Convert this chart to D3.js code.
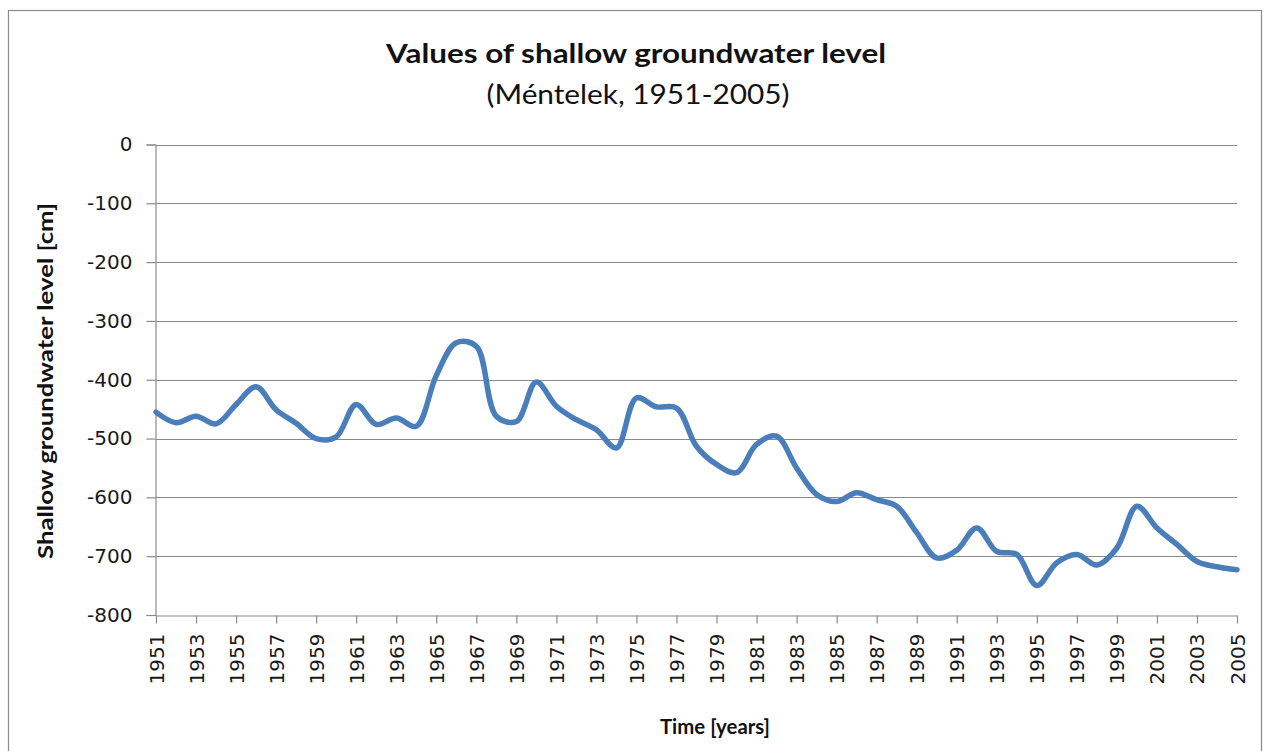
<!DOCTYPE html>
<html>
<head>
<meta charset="utf-8">
<script src="https://cdn.jsdelivr.net/npm/d3@7"></script>
<style>
  html, body { margin: 0; padding: 0; background: #fff; }
  svg { display: block; }
</style>
</head>
<body>
<svg id="chart" width="1266" height="751"></svg>
<script>
const titleText = "Values of shallow groundwater level";
const subtitleText = "(Méntelek, 1951-2005)";
const yAxisTitle = "Shallow groundwater level [cm]";
const xAxisTitle = "Time [years]";

const years = [1951,1952,1953,1954,1955,1956,1957,1958,1959,1960,
  1961,1962,1963,1964,1965,1966,1967,1968,1969,1970,
  1971,1972,1973,1974,1975,1976,1977,1978,1979,1980,
  1981,1982,1983,1984,1985,1986,1987,1988,1989,1990,
  1991,1992,1993,1994,1995,1996,1997,1998,1999,2000,
  2001,2002,2003,2004,2005];

const levels = [-455,-473,-462,-475,-442,-412,-451,-474,-500,-497,
  -442,-476,-465,-479,-393,-337,-343,-462,-471,-404,
  -445,-468,-485,-516,-431,-446,-448,-513,-544,-558,
  -510,-496,-550,-595,-607,-592,-604,-615,-660,-703,
  -690,-652,-692,-697,-750,-711,-697,-715,-686,-615,
  -652,-680,-709,-718,-723];

const yTicks = [0,-100,-200,-300,-400,-500,-600,-700,-800];
const xTickLabels = [1951,1953,1955,1957,1959,1961,1963,1965,1967,1969,1971,1973,1975,1977,1979,1981,1983,1985,1987,1989,1991,1993,1995,1997,1999,2001,2003,2005];

const svg = d3.select("#chart");
const gridColor = "#8a8a8a";

// outer frame
svg.append("rect")
  .attr("x", 8.5).attr("y", 10.5)
  .attr("width", 1253).attr("height", 780)
  .attr("fill", "#fff").attr("stroke", "#8c8c8c").attr("stroke-width", 1.2);

const x = d3.scalePoint().domain(years).range([156, 1237]);
const y = d3.scaleLinear().domain([-800, 0]).range([615, 144.5]);

// gridlines
svg.append("g")
  .selectAll("line")
  .data(yTicks.filter(d => d !== -800))
  .join("line")
  .attr("x1", 156).attr("x2", 1237)
  .attr("y1", d => Math.round(y(d)) + 0.5).attr("y2", d => Math.round(y(d)) + 0.5)
  .attr("stroke", gridColor).attr("stroke-width", 1.2);

// y axis
const yAxis = svg.append("g")
  .attr("transform", "translate(155.5,0)")
  .call(d3.axisLeft(y).tickValues(yTicks).tickFormat(d => String(d)).tickSize(9).tickPadding(14));
yAxis.selectAll("path, line").attr("stroke", gridColor).attr("stroke-width", 1.2);
yAxis.selectAll("text")
  .attr("font-family", "DejaVu Sans, Verdana, sans-serif")
  .attr("font-size", 20).attr("fill", "#1a1a1a");

// x axis
const xAxis = svg.append("g")
  .attr("transform", "translate(0,615.5)")
  .call(d3.axisBottom(x).tickValues(xTickLabels).tickSize(8).tickSizeOuter(0).tickFormat(d => String(d)));
xAxis.select("path").attr("stroke", gridColor).attr("stroke-width", 1.2);
xAxis.selectAll("line").attr("stroke", gridColor).attr("stroke-width", 1.2);
xAxis.selectAll("text")
  .attr("font-family", "DejaVu Sans, Verdana, sans-serif")
  .attr("font-size", 20).attr("fill", "#1a1a1a")
  .attr("text-anchor", "end")
  .attr("dy", "0.35em")
  .attr("transform", "translate(0,18) rotate(-90)")
  .attr("x", 0).attr("y", 0);

// line
const line = d3.line()
  .x((d, i) => x(years[i]))
  .y(d => y(d))
  .curve(d3.curveCatmullRom.alpha(0.5));

svg.append("path")
  .datum(levels)
  .attr("d", line)
  .attr("fill", "none")
  .attr("stroke", "#4a7ebb")
  .attr("stroke-width", 5.5)
  .attr("stroke-linejoin", "round")
  .attr("stroke-linecap", "round");

// titles
svg.append("text")
  .attr("x", 636).attr("y", 63)
  .attr("text-anchor", "middle")
  .attr("font-family", "Lato, Open Sans, sans-serif")
  .attr("font-weight", "bold").attr("font-size", 27)
  .attr("textLength", 500).attr("lengthAdjust", "spacingAndGlyphs")
  .attr("fill", "#111")
  .text(titleText);

svg.append("text")
  .attr("x", 638).attr("y", 104)
  .attr("text-anchor", "middle")
  .attr("font-family", "Lato, Open Sans, sans-serif")
  .attr("font-size", 26)
  .attr("textLength", 303).attr("lengthAdjust", "spacingAndGlyphs")
  .attr("fill", "#111")
  .text(subtitleText);

svg.append("text")
  .attr("transform", "translate(53,381) rotate(-90)")
  .attr("text-anchor", "middle")
  .attr("font-family", "Lato, Open Sans, sans-serif")
  .attr("font-weight", "bold").attr("font-size", 20)
  .attr("textLength", 356).attr("lengthAdjust", "spacingAndGlyphs")
  .attr("fill", "#111")
  .text(yAxisTitle);

svg.append("text")
  .attr("x", 715).attr("y", 734)
  .attr("text-anchor", "middle")
  .attr("font-family", "Lato, Open Sans, sans-serif")
  .attr("font-weight", "bold").attr("font-size", 20)
  .attr("textLength", 110).attr("lengthAdjust", "spacingAndGlyphs")
  .attr("fill", "#111")
  .text(xAxisTitle);
</script>
</body>
</html>
